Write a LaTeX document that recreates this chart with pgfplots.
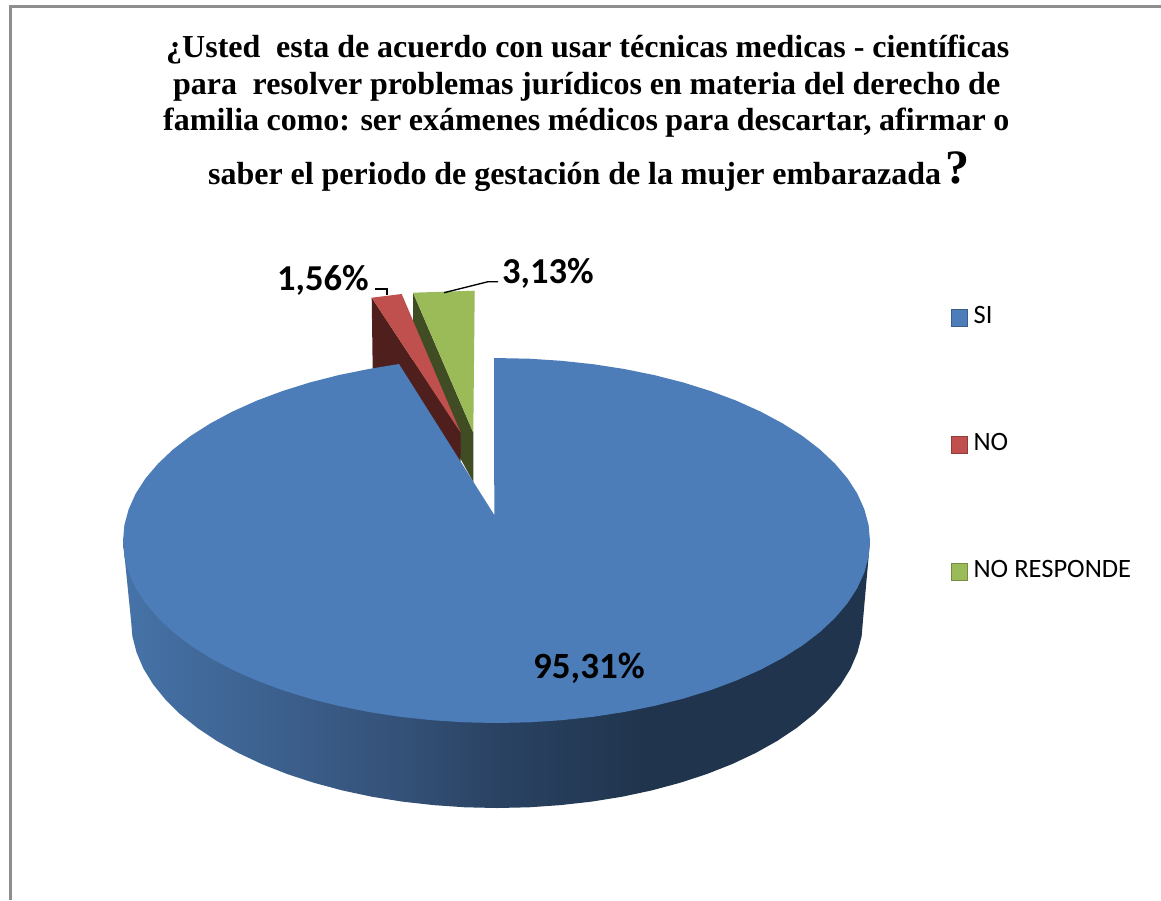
\documentclass[border=0pt]{standalone}
\usepackage{fontspec}
\setmainfont{Carlito}
\newfontfamily\titlefont{Liberation Serif}[BoldFont={Liberation Serif Bold}]
\usepackage{pgfplots}
\pgfplotsset{compat=1.18}
\definecolor{bluetop}{HTML}{4C7DB9}
\definecolor{redtop}{HTML}{C0504D}
\definecolor{reddark}{HTML}{4F1F1E}
\definecolor{greentop}{HTML}{9BBB59}
\definecolor{greendark}{HTML}{3F4C24}
\definecolor{framegray}{HTML}{8E8E8E}
\definecolor{sA}{HTML}{4673A8}
\definecolor{sB}{HTML}{345178}
\definecolor{sC}{HTML}{2A4363}
\definecolor{sD}{HTML}{20344D}
\pgfdeclarehorizontalshading{sideblue}{100bp}{color(0bp)=(sA); color(25bp)=(sA); color(43.5bp)=(sB); color(50bp)=(sC); color(60bp)=(sD); color(100bp)=(sD)}
\begin{document}
\begin{tikzpicture}
\path[use as bounding box, fill=white] (0,0) rectangle (1161pt,900pt);
\begin{axis}[
  at={(0,0)}, anchor=south west,
  scale only axis, width=1161pt, height=900pt,
  xmin=0, xmax=1161, ymin=0, ymax=900, y dir=reverse,
  hide axis,
  legend image code/.code={\path[draw=none,fill=none] (0pt,-16pt) rectangle (22pt,16pt); \draw[#1] (0pt,-10.25pt) rectangle (16pt,6.25pt);},
  legend style={at={(axis cs:951,300)}, anchor=north west, draw=none, fill=none,
    inner sep=0pt, outer sep=0pt, row sep=95pt,
    font=\fontsize{26.5}{27}\selectfont,
    nodes={inner sep=0pt, outer sep=0pt}},
  legend cell align=left,
]
% frame
\addplot[forget plot, framegray, line width=3pt, mark=none] coordinates {(10.5,900)(10.5,6)(1161,6)};
% green slice
\addplot[forget plot, draw=none, fill=greendark, mark=none] coordinates {(413,292.7)(473.3,432.7)(473.3,482)(413,372)} -- cycle;
\addplot[forget plot, draw=none, fill=greentop, mark=none] coordinates {(413,292.7)(474.7,290.7)(473.3,432.7)} -- cycle;
% red slice
\addplot[forget plot, draw=none, fill=reddark, mark=none] coordinates {(371.7,297.7)(460.7,432.7)(460.7,461.7)(373,392)} -- cycle;
\addplot[forget plot, draw=none, fill=redtop, mark=none] coordinates {(371.7,297.7)(401.7,294)(460.7,432.7)} -- cycle;
% blue side
\addplot[forget plot, draw=none, shade, shading=sideblue, mark=none] coordinates {
(123,541)(131.0,620)(132.4,636.4)(136.6,652.6)(143.5,668.7)(153.1,684.3)(165.3,699.4)(180.0,714)(197.2,727.8)(216.6,740.8)(238.2,752.9)(261.7,764)(287.1,774)(314,782.8)(342.3,790.4)(371.8,796.7)(402.3,801.6)(433.5,805.1)(465.1,807.3)(497,808)(528.9,807.3)(560.5,805.1)(591.7,801.6)(622.2,796.7)(651.7,790.4)(680,782.8)(706.9,774)(732.3,764)(755.8,752.9)(777.4,740.8)(796.8,727.8)(814,714)(828.7,699.4)(840.9,684.3)(850.5,668.7)(857.4,652.6)(861.6,636.4)(863,620)(870,541)} -- cycle;
% blue top
\addplot[forget plot, draw=none, fill=bluetop, mark=none] coordinates {
(494.3,515)(494,358)(529.1,358.7)(561.3,360.8)(593.2,364.2)(624.2,369.0)(654.3,375.1)(683.3,382.5)(710.7,391.1)(736.6,400.8)(760.6,411.6)(782.6,423.4)(802.5,436.0)(820.0,449.5)(835.0,463.7)(847.5,478.4)(857.3,493.6)(864.3,509.2)(868.6,525.0)(870.0,541)(868.6,556.9)(864.3,572.6)(857.3,588.1)(847.5,603.2)(835.0,617.9)(820.0,632.0)(802.5,645.4)(782.6,658.0)(760.6,669.7)(736.6,680.4)(710.7,690.1)(683.3,698.6)(654.3,705.9)(624.2,712.0)(593.2,716.8)(561.3,720.2)(529.1,722.3)(496.5,723)(463.9,722.3)(431.7,720.2)(399.8,716.8)(368.8,712.0)(338.7,705.9)(309.7,698.6)(282.3,690.1)(256.4,680.4)(232.4,669.7)(210.4,658.0)(190.5,645.4)(173.0,632.0)(158.0,617.9)(145.5,603.2)(135.7,588.1)(128.7,572.6)(124.4,556.9)(123.0,541)(124.4,525.0)(128.7,509.2)(135.7,493.6)(145.5,478.4)(158.0,463.7)(173.0,449.5)(190.5,436.0)(210.4,423.4)(232.4,411.6)(256.4,400.8)(282.3,391.1)(309.7,382.5)(338.7,375.1)(368.8,369.0)(399,364)} -- cycle;
% leader lines
\addplot[forget plot, black, line width=1.3pt, mark=none] coordinates {(375,289)(387,289)(387,295)};
\addplot[forget plot, black, line width=1.3pt, mark=none] coordinates {(444,292.7)(488,281.7)(498,281.7)};
% legend
\addlegendimage{fill=bluetop, draw=bluetop!75!black, line width=1.2pt}
\addlegendentry{SI}
\addlegendimage{fill=redtop, draw=redtop!75!black, line width=1.2pt}
\addlegendentry{NO}
\addlegendimage{fill=greentop, draw=greentop!75!black, line width=1.2pt}
\addlegendentry{NO RESPONDE}
% title
\node[anchor=base west, inner sep=0pt] at (axis cs:166,57) {\titlefont\bfseries\fontsize{32}{32}\selectfont\makebox[843pt][s]{¿Usted\ \ esta de acuerdo con usar técnicas medicas - científicas}};
\node[anchor=base west, inner sep=0pt] at (axis cs:173,94) {\titlefont\bfseries\fontsize{32}{32}\selectfont\makebox[827pt][s]{para\ \ resolver problemas jurídicos en materia del derecho de}};
\node[anchor=base west, inner sep=0pt] at (axis cs:163,130) {\titlefont\bfseries\fontsize{32}{32}\selectfont\makebox[846pt][s]{familia como: ser exámenes médicos para descartar, afirmar o}};
\node[anchor=base west, inner sep=0pt] at (axis cs:208,184) {\titlefont\bfseries\fontsize{32}{32}\selectfont\makebox[733pt][s]{saber el periodo de gestación de la mujer embarazada}};
\node[anchor=base west, inner sep=0pt] at (axis cs:945,183) {\titlefont\bfseries\fontsize{48}{48}\selectfont ?};
% data labels
\node[anchor=base west, inner sep=0pt] at (axis cs:533,678) {\bfseries\fontsize{37}{37}\selectfont 95,31\%};
\node[anchor=base west, inner sep=0pt] at (axis cs:277,290) {\bfseries\fontsize{36.5}{37}\selectfont 1,56\%};
\node[anchor=base west, inner sep=0pt] at (axis cs:502,283) {\bfseries\fontsize{36.5}{37}\selectfont 3,13\%};
\end{axis}
\end{tikzpicture}
\end{document}
